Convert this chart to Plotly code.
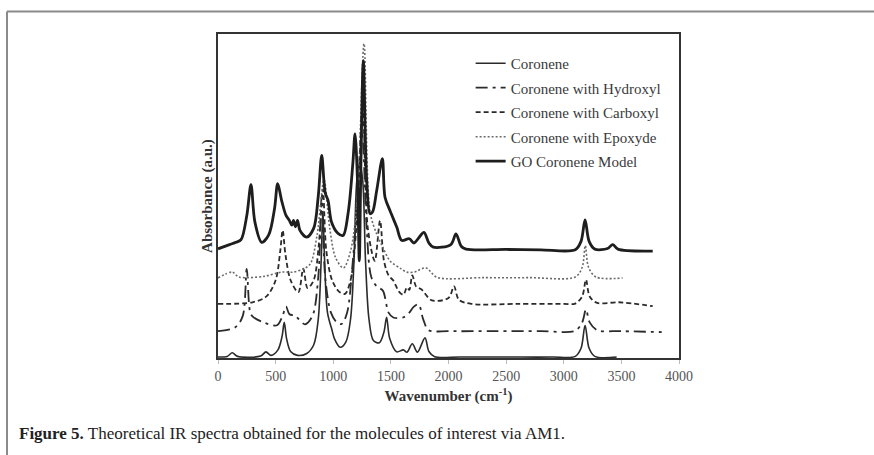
import plotly.graph_objects as go

# Wavenumber (cm-1) / absorbance (a.u., vertically offset) pairs for each spectrum
coronene_x = [0, 80, 124, 170, 370, 416, 460, 520, 555, 575, 595, 630, 690, 770, 830, 870, 895, 910, 925, 950, 990, 1010, 1060, 1110, 1150, 1180, 1205, 1230, 1255, 1280, 1310, 1348, 1400, 1440, 1463, 1490, 1550, 1608, 1640, 1686, 1730, 1796, 1830, 1880, 2100, 2500, 2900, 3100, 3150, 3185, 3220, 3270, 3459]
coronene_y = [0.3, 0.5, 1.6, 0.5, 0.6, 1.9, 0.8, 2.5, 6.5, 11, 6, 2, 0.8, 1.4, 4, 12, 30, 45, 30, 14, 8.5, 6, 3.3, 5, 12, 30, 55, 60, 55, 30, 12, 5.4, 4.7, 8, 12.6, 6, 1.9, 2.5, 1.8, 4.4, 1.8, 6.2, 2, 0.4, 0.3, 0.3, 0.3, 0.5, 3, 10, 3, 0.5, 0.3]

hydroxyl_x = [0, 150, 215, 249, 280, 306, 409, 512, 560, 590, 620, 668, 700, 755, 820, 870, 900, 930, 980, 1030, 1073, 1120, 1170, 1210, 1250, 1290, 1330, 1380, 1430, 1480, 1521, 1606, 1660, 1695, 1740, 1780, 1828, 2000, 2400, 2800, 3100, 3160, 3193, 3225, 3290, 3500, 3850]
hydroxyl_y = [8.3, 9.5, 13, 27.5, 14, 12.6, 10.8, 10.1, 13, 15.9, 13.5, 13.1, 12, 10.4, 13, 25, 50, 25, 14, 11, 10.5, 14, 30, 50, 70, 40, 25, 22, 20.8, 14, 12.5, 12.5, 14, 15.7, 16.6, 12, 8.6, 8.3, 8.3, 8.3, 8.4, 11, 15, 11, 8.6, 8.3, 8.0]

carboxyl_x = [0, 300, 420, 500, 540, 561, 585, 630, 697, 740, 777, 830, 875, 910, 940, 990, 1050, 1102, 1150, 1200, 1255, 1300, 1360, 1406, 1440, 1480, 1521, 1570, 1608, 1640, 1660, 1686, 1720, 1764, 1855, 2000, 2048, 2090, 2200, 2600, 3000, 3100, 3160, 3193, 3225, 3290, 3480, 3772]
carboxyl_y = [16.7, 17.2, 19, 24, 33, 39.4, 32, 24, 20.3, 27.6, 21.6, 24, 35, 52, 33, 24, 20.5, 19.8, 24, 40, 78, 40, 30, 42.4, 30, 25.5, 23.9, 20.5, 19.5, 21.8, 21, 25.5, 22, 21.2, 17.8, 18.5, 22.1, 18, 16.7, 16.7, 16.7, 16.8, 19, 24.2, 19, 17, 17.2, 16]

epoxyde_x = [0, 124, 180, 400, 550, 650, 740, 800, 860, 920, 970, 1020, 1088, 1150, 1210, 1267, 1320, 1380, 1430, 1492, 1590, 1640, 1700, 1805, 1900, 2300, 2700, 3100, 3160, 3187, 3215, 3280, 3511]
epoxyde_y = [24.7, 26.5, 25, 25.2, 26.5, 26.5, 27.5, 29, 38, 55, 40, 31, 27.8, 33, 50, 97, 45, 38, 34.2, 30, 27.5, 26.5, 26.5, 27.8, 24.9, 24.8, 24.8, 25, 28, 34.7, 28, 25, 24.7]

go_model_x = [0, 100, 156, 200, 250, 286, 320, 379, 440, 490, 518, 552, 590, 620, 640, 655, 672, 690, 711, 770, 830, 870, 900, 930, 955, 985, 1040, 1085, 1130, 1170, 1189, 1210, 1226, 1240, 1261, 1290, 1319, 1340, 1377, 1426, 1449, 1492, 1551, 1594, 1660, 1700, 1740, 1787, 1830, 1868, 2020, 2065, 2110, 2152, 2500, 2800, 3100, 3150, 3185, 3220, 3270, 3380, 3425, 3470, 3772]
go_model_y = [33.7, 35, 35.7, 36.5, 44, 53.5, 42, 35.7, 38, 46, 53.8, 48.6, 44, 42.4, 41, 42.5, 40.5, 42.5, 39.4, 37.3, 40, 50, 62.5, 51, 48.6, 42, 38.5, 37.8, 45, 60, 69.2, 55, 30, 60, 91.8, 55, 44.6, 45, 51.7, 61.5, 49.6, 45.5, 40.4, 36.3, 36.8, 35.5, 37, 38.8, 35.5, 34.2, 35, 38.3, 34.5, 33.6, 33.5, 33.4, 33.4, 36, 42.6, 36, 33.6, 33.8, 35, 33.6, 33]

x_ticks = [0, 500, 1000, 1500, 2000, 2500, 3000, 3500, 4000]

series = [
    ("Coronene", coronene_x, coronene_y, dict(color="#2b2b2b", width=1.6, dash="solid")),
    ("Coronene with Hydroxyl", hydroxyl_x, hydroxyl_y, dict(color="#2b2b2b", width=1.8, dash="12px,5px,3px,5px")),
    ("Coronene with Carboxyl", carboxyl_x, carboxyl_y, dict(color="#2b2b2b", width=1.8, dash="5px,3px")),
    ("Coronene with Epoxyde", epoxyde_x, epoxyde_y, dict(color="#6a6a6a", width=1.6, dash="2px,2px")),
    ("GO Coronene Model", go_model_x, go_model_y, dict(color="#1e1e1e", width=2.8, dash="solid")),
]

fig = go.Figure()
for i, (name, xs, ys, line) in enumerate(series):
    fig.add_trace(go.Scatter(
        x=xs, y=ys, name=name, mode="lines",
        line=dict(shape="spline", smoothing=0.9, **line),
        legendgroup=f"g{i}",
    ))

serif = "Liberation Serif, Times New Roman, serif"

fig.update_layout(
    width=874, height=455,
    margin=dict(l=218, r=195, t=34, b=97),
    paper_bgcolor="white", plot_bgcolor="white",
    font=dict(family=serif, color="#333333", size=14),
    showlegend=True,
    legend=dict(
        x=0.548, y=0.96, xanchor="left", yanchor="top",
        bgcolor="rgba(0,0,0,0)", font=dict(family=serif, size=15, color="#3a3a3a"),
        tracegroupgap=2,
    ),
    xaxis=dict(
        range=[0, 4000], tickvals=x_ticks, ticktext=[str(v) for v in x_ticks],
        showgrid=False, zeroline=False,
        showline=True, mirror=True, linecolor="#333333", linewidth=2,
        ticks="outside", ticklen=4, tickcolor="#bbbbbb", tickwidth=1,
        tickfont=dict(family=serif, size=14, color="#555555"),
        title=dict(text="<b>Wavenumber (cm<sup>-1</sup>)</b>", font=dict(family=serif, size=15, color="#333333"), standoff=8),
    ),
    yaxis=dict(
        range=[0, 100], showticklabels=False, ticks="",
        showgrid=False, zeroline=False,
        showline=True, mirror=True, linecolor="#333333", linewidth=2,
        title=dict(text="<b>Absorbance (a.u.)</b>", font=dict(family=serif, size=15, color="#333333"), standoff=0),
    ),
)

# Outer figure frame (top and left rules) and the caption below the chart
fig.add_shape(type="line", xref="paper", yref="paper",
              x0=(7 - 218) / 461, x1=(874 - 218) / 461, y0=(357.5 - 11.5) / 323.5, y1=(357.5 - 11.5) / 323.5,
              line=dict(color="#8a8a8a", width=2))
fig.add_shape(type="line", xref="paper", yref="paper",
              x0=(7 - 218) / 461, x1=(7 - 218) / 461, y0=(357.5 - 11.5) / 323.5, y1=(357.5 - 460) / 323.5,
              line=dict(color="#8a8a8a", width=2))
fig.add_annotation(
    xref="paper", yref="paper", x=(17 - 218) / 461, y=(357.5 - 433) / 323.5,
    xanchor="left", yanchor="middle", showarrow=False,
    text="<b>Figure 5.</b> Theoretical IR spectra obtained for the molecules of interest via AM1.",
    font=dict(family=serif, size=17, color="#222222"),
)

fig.write_html("out.html")
